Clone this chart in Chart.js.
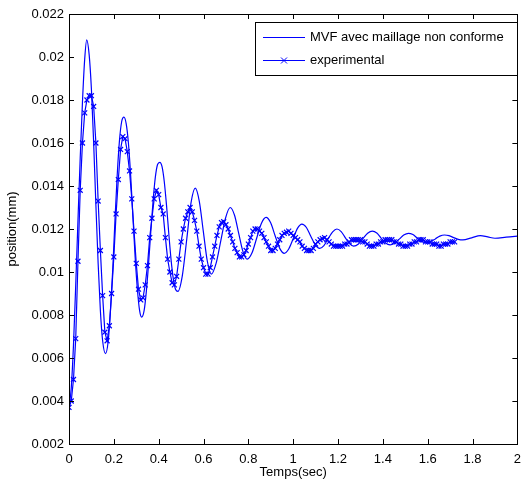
<!DOCTYPE html>
<html>
<head>
<meta charset="utf-8">
<script src="https://cdn.jsdelivr.net/npm/chart.js@4/dist/chart.umd.min.js"></script>
<style>
  html, body { margin: 0; padding: 0; background: #fff; }
  #wrap { width: 529px; height: 492px; }
</style>
</head>
<body>
<div id="wrap"><canvas id="chart" width="529" height="492"></canvas></div>
<script>
// MVF simulation curve (time in s, position in mm)
var mvfTime = [
  0.000, 0.010, 0.020, 0.030, 0.040, 0.050, 0.060, 0.070, 0.079, 0.090,
  0.100, 0.110, 0.120, 0.130, 0.140, 0.150, 0.163, 0.175, 0.185, 0.195,
  0.205, 0.215, 0.225, 0.235, 0.245, 0.255, 0.265, 0.275, 0.285, 0.295,
  0.305, 0.315, 0.324, 0.335, 0.345, 0.355, 0.365, 0.375, 0.385, 0.395,
  0.405, 0.415, 0.425, 0.435, 0.445, 0.455, 0.465, 0.475, 0.486,
  0.505, 0.525, 0.544, 0.563, 0.581, 0.599, 0.617, 0.635,
  0.656, 0.677, 0.698, 0.719, 0.738, 0.757, 0.776, 0.795,
  0.816, 0.837, 0.858, 0.879, 0.899, 0.919, 0.940, 0.960,
  0.980, 1.000, 1.019, 1.039, 1.059, 1.078, 1.098, 1.118,
  1.137, 1.156, 1.176, 1.195, 1.214, 1.232, 1.251, 1.270,
  1.291, 1.311, 1.332, 1.353, 1.373, 1.392, 1.412, 1.432,
  1.452, 1.473, 1.493, 1.514, 1.534, 1.553, 1.573, 1.593,
  1.613, 1.634, 1.654, 1.675, 1.695, 1.716, 1.736, 1.757,
  1.796, 1.835, 1.868, 1.900, 1.950, 2.000
];
var mvfPos = [
  0.0037, 0.0046, 0.0066, 0.0094, 0.0124, 0.0153, 0.0179, 0.0199, 0.0208, 0.0201,
  0.0185, 0.0160, 0.0131, 0.0104, 0.0082, 0.0068, 0.0062, 0.0068, 0.0082, 0.0101,
  0.0124, 0.0145, 0.0161, 0.0170, 0.0172, 0.0169, 0.0160, 0.0145, 0.0126, 0.0107,
  0.0092, 0.0082, 0.0079, 0.0082, 0.0091, 0.0104, 0.0119, 0.0133, 0.0144, 0.0150,
  0.0151, 0.0149, 0.0142, 0.0131, 0.0118, 0.0106, 0.0097, 0.0092, 0.0091,
  0.0098, 0.0115, 0.0132, 0.0139, 0.0133, 0.0119, 0.0105, 0.0099,
  0.0104, 0.01145, 0.0125, 0.0130, 0.01265, 0.0118, 0.01095, 0.0106,
  0.01088, 0.01157, 0.01226, 0.01254, 0.0123, 0.0117, 0.0111, 0.01087,
  0.01107, 0.01155, 0.01203, 0.01223, 0.01207, 0.01167, 0.01127, 0.0111,
  0.01123, 0.01155, 0.01187, 0.0120, 0.01188, 0.0116, 0.01132, 0.0112,
  0.0113, 0.01155, 0.0118, 0.0119, 0.01181, 0.01158, 0.01135, 0.01126,
  0.01134, 0.01153, 0.01172, 0.0118, 0.01174, 0.01158, 0.01142, 0.01136,
  0.01141, 0.01154, 0.01167, 0.01172, 0.01169, 0.0116, 0.01152, 0.01149,
  0.01159, 0.01169, 0.01163, 0.01157, 0.01162, 0.01167
];

// experimental record, sampled every 0.01 s from t = 0
var expStart = 0;
var expStep = 0.01;
var expPos = [
  0.0037, 0.0040, 0.0050, 0.0069, 0.0105, 0.0138, 0.0160, 0.0174, 0.0180, 0.0182,
  0.0182, 0.0177, 0.0160, 0.0133, 0.0110, 0.0089, 0.0072, 0.0068, 0.0075, 0.0090,
  0.0107, 0.0127, 0.0143, 0.0157, 0.0163, 0.0162, 0.0156, 0.0147, 0.0134, 0.0119,
  0.0104, 0.0092, 0.0087, 0.0088, 0.0094, 0.0103, 0.0116, 0.0125, 0.0134, 0.0138,
  0.0136, 0.0130, 0.0127, 0.0116, 0.0106, 0.0100, 0.0095, 0.0094, 0.0098, 0.0106,
  0.0114, 0.0120, 0.0125, 0.0128, 0.0130, 0.0128, 0.0124, 0.0119, 0.0112, 0.0106,
  0.0102, 0.0099, 0.0099, 0.0102, 0.0107, 0.0112, 0.0117, 0.0121, 0.0123, 0.01234,
  0.0122, 0.0120, 0.0117, 0.0114, 0.0111, 0.0109, 0.0107, 0.0107, 0.0108, 0.0110,
  0.0113, 0.0116, 0.0119, 0.0120, 0.0120, 0.0119, 0.0118, 0.0116, 0.0114, 0.0112,
  0.0110, 0.0110, 0.0111, 0.0113, 0.0115, 0.0117, 0.0118, 0.01185, 0.0119, 0.0118,
  0.0117, 0.0116, 0.0115, 0.0114, 0.0112, 0.0111, 0.0110, 0.0110, 0.0110, 0.0111,
  0.0113, 0.0114, 0.0115, 0.01155, 0.0116, 0.0115, 0.0114, 0.0113, 0.0112, 0.0112,
  0.0112, 0.0112, 0.0112, 0.0113, 0.0113, 0.0114, 0.0115, 0.0115, 0.0115, 0.0115,
  0.0115, 0.0114, 0.0114, 0.0113, 0.0112, 0.0112, 0.0112, 0.0113, 0.0113, 0.0114,
  0.0114, 0.0115, 0.0115, 0.0115, 0.0115, 0.0114, 0.0114, 0.0113, 0.0113, 0.0112,
  0.0112, 0.0112, 0.0113, 0.0113, 0.0114, 0.0114, 0.0115, 0.0115, 0.0115, 0.0114,
  0.0114, 0.0114, 0.0113, 0.0113, 0.0113, 0.0112, 0.0112, 0.0113, 0.0113, 0.0113,
  0.0114, 0.0114, 0.0114
];

var xTicks = [0, 0.2, 0.4, 0.6, 0.8, 1, 1.2, 1.4, 1.6, 1.8, 2];
var yTicks = [0.002, 0.004, 0.006, 0.008, 0.01, 0.012, 0.014, 0.016, 0.018, 0.02, 0.022];
var seriesNames = ["MVF avec maillage non conforme", "experimental"];

var BLUE = "#0000ff";
var FONT = "'Liberation Sans', Arial, Helvetica, sans-serif";

var mvfPts = mvfTime.map(function (t, i) { return { x: t, y: mvfPos[i] }; });
var expPts = expPos.map(function (v, i) { return { x: +(expStart + i * expStep).toFixed(3), y: v }; });

// matlab style box with inward ticks
var boxPlugin = {
  id: "box",
  afterDraw: function (chart) {
    var ctx = chart.ctx, a = chart.chartArea;
    var xs = chart.scales.x, ys = chart.scales.y;
    var len = 5;
    ctx.save();
    ctx.strokeStyle = "#000";
    ctx.lineWidth = 1;
    ctx.strokeRect(Math.round(a.left) + 0.5, Math.round(a.top) + 0.5,
      Math.round(a.right - a.left), Math.round(a.bottom - a.top));
    ctx.beginPath();
    xTicks.forEach(function (v) {
      var px = Math.round(xs.getPixelForValue(v)) + 0.5;
      ctx.moveTo(px, a.bottom); ctx.lineTo(px, a.bottom - len);
      ctx.moveTo(px, a.top); ctx.lineTo(px, a.top + len);
    });
    yTicks.forEach(function (v) {
      var py = Math.round(ys.getPixelForValue(v)) + 0.5;
      ctx.moveTo(a.left, py); ctx.lineTo(a.left + len, py);
      ctx.moveTo(a.right, py); ctx.lineTo(a.right - len, py);
    });
    ctx.stroke();

    // legend
    var bx = 255, by = 22, bw = 262, bh = 53;
    ctx.fillStyle = "#fff";
    ctx.fillRect(bx, by, bw, bh);
    ctx.strokeRect(bx + 0.5, by + 0.5, bw, bh);
    ctx.strokeStyle = BLUE;
    ctx.beginPath();
    ctx.moveTo(263, 37.5); ctx.lineTo(305, 37.5);
    ctx.moveTo(263, 60.5); ctx.lineTo(305, 60.5);
    ctx.moveTo(281, 57.5); ctx.lineTo(287, 63.5);
    ctx.moveTo(287, 57.5); ctx.lineTo(281, 63.5);
    ctx.stroke();
    ctx.fillStyle = "#000";
    ctx.font = "13px " + FONT;
    ctx.textBaseline = "middle";
    ctx.textAlign = "left";
    ctx.fillText(seriesNames[0], 310, 37);
    ctx.fillText(seriesNames[1], 310, 60);
    ctx.restore();
  }
};

function trim(v) { return String(parseFloat(Number(v).toFixed(4))); }

new Chart(document.getElementById("chart"), {
  type: "line",
  data: {
    datasets: [
      {
        label: seriesNames[0],
        data: mvfPts,
        borderColor: BLUE,
        borderWidth: 1.2,
        pointRadius: 0,
        cubicInterpolationMode: "monotone",
        fill: false
      },
      {
        label: seriesNames[1],
        data: expPts,
        borderColor: BLUE,
        borderWidth: 1.2,
        pointStyle: "crossRot",
        pointRadius: 3.5,
        pointBorderColor: BLUE,
        pointBorderWidth: 1.2,
        tension: 0,
        fill: false
      }
    ]
  },
  options: {
    responsive: false,
    animation: false,
    devicePixelRatio: 1,
    layout: { padding: { left: 0, right: 11, top: 14, bottom: 0 } },
    plugins: {
      legend: { display: false },
      tooltip: { enabled: false }
    },
    scales: {
      x: {
        type: "linear",
        min: 0,
        max: 2,
        afterFit: function (s) { s.height = 48; },
        afterBuildTicks: function (s) { s.ticks = xTicks.map(function (v) { return { value: v }; }); },
        grid: { display: false, drawTicks: false },
        border: { display: false },
        ticks: {
          padding: 8,
          color: "#000",
          font: { family: FONT, size: 13 },
          maxRotation: 0,
          callback: function (v) { return trim(v); }
        },
        title: {
          display: true,
          text: "Temps(sec)",
          color: "#000",
          font: { family: FONT, size: 13 },
          padding: { top: 0, bottom: 12 }
        }
      },
      y: {
        type: "linear",
        min: 0.002,
        max: 0.022,
        afterFit: function (s) { s.width = 69; },
        afterBuildTicks: function (s) { s.ticks = yTicks.map(function (v) { return { value: v }; }); },
        grid: { display: false, drawTicks: false },
        border: { display: false },
        ticks: {
          padding: 5,
          color: "#000",
          font: { family: FONT, size: 13 },
          callback: function (v) { return trim(v); }
        },
        title: {
          display: true,
          text: "position(mm)",
          color: "#000",
          font: { family: FONT, size: 13 },
          padding: { top: 5, bottom: 0 }
        }
      }
    }
  },
  plugins: [boxPlugin]
});
</script>
</body>
</html>
